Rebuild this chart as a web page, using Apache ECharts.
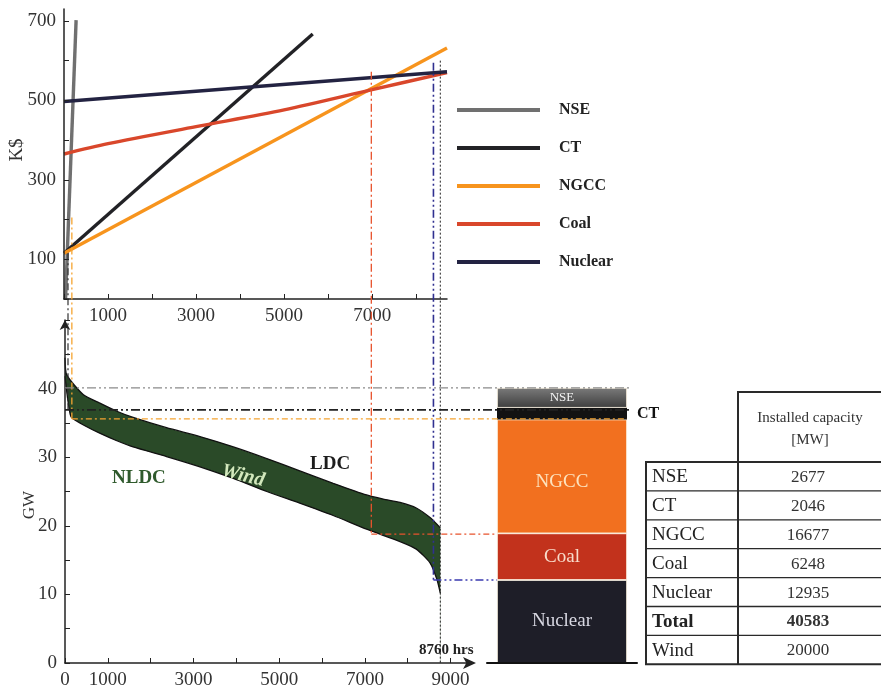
<!DOCTYPE html>
<html><head><meta charset="utf-8">
<script src="https://cdn.jsdelivr.net/npm/echarts@6/dist/echarts.min.js"></script>
<style>html,body{margin:0;padding:0;background:#fff}#c{width:881px;height:694px}</style>
</head><body><div id="c"></div>
<script>
const SERIF = '"Liberation Serif","DejaVu Serif",serif';

// ---- Top panel: screening curves (hours, K$) ----
const techNames = ['NSE', 'CT', 'NGCC', 'Coal', 'Nuclear'];
const nseCurve = [[35, 0], [275, 702]];
const ctCurve = [[0, 115], [5650, 667]];
const ngccCurve = [[0, 115], [8700, 632]];
const coalCurve = [[0, 365], [1000, 391], [3000, 434], [5000, 476], [7000, 527], [8700, 570]];
const nuclearCurve = [[0, 497], [8700, 572]];
const topXTickLabels = [1000, 3000, 5000, 7000];
const topYTickLabels = [100, 300, 500, 700];

// ---- Bottom panel: load duration curves (hours, GW) ----
const ldcPoints = [[0, 44.5], [40, 42.0], [430, 39.1], [810, 37.9], [1210, 36.7], [1590, 35.8], [2370, 34.3], [3150, 33.0], [3930, 31.5], [4710, 29.8], [5480, 28.0], [6260, 26.2], [7040, 24.5], [7430, 23.9], [7820, 23.4], [8200, 22.6], [8520, 21.2], [8760, 19.7]];
const nldcPoints = [[0, 41.8], [60, 38.6], [120, 36.3], [165, 35.7], [430, 34.7], [810, 33.5], [1210, 32.4], [1590, 31.5], [2370, 30.1], [3150, 28.6], [3930, 26.9], [4710, 25.0], [5480, 23.3], [6260, 21.5], [7040, 19.5], [7820, 17.7], [8200, 16.6], [8520, 14.6], [8680, 12.2], [8760, 10.2]];
const bottomXTickLabels = [0, 1000, 3000, 5000, 7000, 9000];
const bottomYTickLabels = [0, 10, 20, 30, 40];

// ---- Stacked capacity bar (GW, bottom to top) ----
const barTech = ['Nuclear', 'Coal', 'NGCC', 'CT', 'NSE'];
const barGW = [12.1, 6.8, 16.6, 1.7, 2.9];

// ---- Connector lines ----
const vConnHours = [70, 160, 7150, 8600, 8760];
const vConnTopK = [115, 205, 572, 595, 600];
const vConnBottomGW = [36.9, 35.6, 18.8, 12.1, 0];
const hGuideGW = [40.1, 36.9, 35.6, 18.8, 12.1];
const hGuideStartHr = [0, 0, 160, 7150, 8600];

// ---- Table ----
const tableRows = ['NSE', 'CT', 'NGCC', 'Coal', 'Nuclear', 'Total', 'Wind'];
const tableMW = [2677, 2046, 16677, 6248, 12935, 40583, 20000];

const techColors = { NSE: '#707070', CT: '#222226', NGCC: '#f7941d', Coal: '#d9472b', Nuclear: '#232342' };
const curves = { NSE: nseCurve, CT: ctCurve, NGCC: ngccCurve, Coal: coalCurve, Nuclear: nuclearCurve };

const chart = echarts.init(document.getElementById('c'), null, { renderer: 'canvas' });

const axisLabelStyle = { fontFamily: SERIF, fontSize: 19, color: '#333' };
const axisLineStyle = { lineStyle: { color: '#222', width: 1.5 } };

const topSeries = techNames.map(n => ({
  name: n, type: 'line', xAxisIndex: 0, yAxisIndex: 0,
  data: curves[n], showSymbol: false, symbol: 'none', smooth: n === 'Coal' ? 0.3 : false,
  lineStyle: { color: techColors[n], width: 3.4 }, itemStyle: { color: techColors[n] }, z: 3
}));

const barColors = {
  Nuclear: '#1e1e28', Coal: '#c2321c', NGCC: '#f2701f', CT: '#121212',
  NSE: new echarts.graphic.LinearGradient(0, 0, 0, 1, [{ offset: 0, color: '#7a7a7a' }, { offset: 1, color: '#3e3e3e' }])
};
const barLabelStyle = {
  Nuclear: { color: '#d8d8e2', fontSize: 19 },
  Coal: { color: '#f8dccb', fontSize: 19 },
  NGCC: { color: '#fde3bf', fontSize: 19, offset: [0, 6] },
  NSE: { color: '#f2f2f2', fontSize: 13 }
};
const barSeries = barTech.map((n, i) => ({
  name: 'bar-' + n, type: 'bar', xAxisIndex: 2, yAxisIndex: 2, stack: 'cap',
  barWidth: 130, data: [barGW[i]],
  itemStyle: { color: barColors[n], borderColor: '#fbf3df', borderWidth: n === 'CT' ? 0 : 0.8 },
  label: n === 'CT'
    ? { show: true, position: 'right', distance: 10, formatter: 'CT', fontFamily: SERIF, fontWeight: 'bold', fontSize: 16, color: '#111' }
    : { show: true, position: 'inside', formatter: n, fontFamily: SERIF, ...barLabelStyle[n] },
  z: 2
}));

const option = {
  animation: false,
  backgroundColor: '#fff',
  legend: {
    data: techNames, orient: 'vertical', left: 452, top: 95,
    icon: 'rect', itemWidth: 83, itemHeight: 4, itemGap: 18,
    textStyle: { fontFamily: SERIF, fontWeight: 'bold', fontSize: 16, color: '#222', lineHeight: 20, padding: [0, 0, 0, 14] },
    selectedMode: false
  },
  grid: [
    { left: 64, top: 9, width: 383, height: 290, outerBoundsMode: 'none' },
    { left: 65, top: 320, width: 407, height: 343, outerBoundsMode: 'none' },
    { left: 487, top: 320, width: 150, height: 343, outerBoundsMode: 'none' }
  ],
  xAxis: [
    { gridIndex: 0, type: 'value', min: 0, max: 8700, interval: 1000, z: 4,
      axisLine: axisLineStyle, axisTick: { show: true, inside: true, length: 5, lineStyle: { color: '#222' } },
      splitLine: { show: false },
      axisLabel: { ...axisLabelStyle, margin: 8, showMaxLabel: false, formatter: v => topXTickLabels.includes(v) ? String(v) : '' } },
    { gridIndex: 1, type: 'value', min: 0, max: 9500, interval: 1000, z: 4,
      axisLine: { ...axisLineStyle, symbol: ['none', 'arrow'], symbolSize: [9, 13], symbolOffset: [0, 4] },
      axisTick: { show: true, inside: true, length: 5, lineStyle: { color: '#222' } },
      splitLine: { show: false },
      axisLabel: { ...axisLabelStyle, margin: 8, showMaxLabel: false, formatter: v => bottomXTickLabels.includes(v) ? String(v) : '' } },
    { gridIndex: 2, type: 'category', data: ['cap'], show: true, z: 4,
      axisLine: { show: true, lineStyle: { color: '#111', width: 2 } }, axisTick: { show: false }, axisLabel: { show: false } }
  ],
  yAxis: [
    { gridIndex: 0, type: 'value', min: 0, max: 730, interval: 100, z: 4,
      axisLine: { show: true, ...axisLineStyle }, axisTick: { show: true, inside: true, length: 5, lineStyle: { color: '#222' } },
      splitLine: { show: false },
      axisLabel: { ...axisLabelStyle, margin: 8, showMaxLabel: false, formatter: v => topYTickLabels.includes(v) ? String(v) : '' } },
    { gridIndex: 1, type: 'value', min: 0, max: 50, interval: 5, z: 4,
      axisLine: { show: true, ...axisLineStyle, symbol: ['none', 'arrow'], symbolSize: [8, 10] },
      axisTick: { show: true, inside: true, length: 5, lineStyle: { color: '#222' } },
      splitLine: { show: false },
      axisLabel: { ...axisLabelStyle, margin: 8, formatter: v => bottomYTickLabels.includes(v) ? String(v) : '' } },
    { gridIndex: 2, type: 'value', min: 0, max: 50, show: false, splitLine: { show: false } }
  ],
  series: [
    ...topSeries,
    { name: 'LDC', type: 'line', xAxisIndex: 1, yAxisIndex: 1, data: ldcPoints, symbol: 'none', smooth: 0.2,
      lineStyle: { color: '#111', width: 1.3 }, areaStyle: { color: '#2a4a28', opacity: 1 }, z: 2 },
    { name: 'NLDC', type: 'line', xAxisIndex: 1, yAxisIndex: 1, data: nldcPoints, symbol: 'none', smooth: 0.2,
      lineStyle: { color: '#111', width: 1.3 }, areaStyle: { color: '#ffffff', opacity: 1 }, z: 2.1 },
    ...barSeries
  ]
};
chart.setOption(option);

// ---- overlays computed through the chart's own coordinate systems ----
const px = (g, x, y) => chart.convertToPixel({ gridIndex: g }, [x, y]);
const connStyles = [
  { stroke: '#333', lineWidth: 1.2, lineDash: [7, 3, 2, 3] },
  { stroke: '#f5a431', lineWidth: 1.3, lineDash: [7, 3, 2, 3] },
  { stroke: '#e8532d', lineWidth: 1.3, lineDash: [8, 3, 2, 3] },
  { stroke: '#303090', lineWidth: 1.6, lineDash: [8, 3, 2, 3, 2, 3] },
  { stroke: '#222', lineWidth: 1, lineDash: [2, 2] }
];
const guideStyles = [
  { stroke: '#8a8a8a', lineWidth: 1.4, lineDash: [9, 3, 2, 3, 2, 3] },
  { stroke: '#222', lineWidth: 1.8, lineDash: [9, 3, 2, 3, 2, 3] },
  { stroke: '#f5a431', lineWidth: 1.3, lineDash: [6, 3, 2, 3] },
  { stroke: '#e8532d', lineWidth: 1.3, lineDash: [6, 3, 2, 3] },
  { stroke: '#3a3ab0', lineWidth: 1.5, lineDash: [8, 3, 2, 3, 2, 3] }
];
const graphics = [];
vConnHours.forEach((h, i) => {
  const xb = px(1, h, vConnBottomGW[i]);
  const yt = px(0, 0, vConnTopK[i])[1];
  graphics.push({ type: 'line', z: 50, shape: { x1: xb[0], y1: yt, x2: xb[0], y2: xb[1] }, style: connStyles[i], silent: true });
});
const barCenter = px(2, 'cap', 0)[0];
const barLeft = barCenter - 65, barRight = barCenter + 65;
hGuideGW.forEach((g, i) => {
  const p = px(1, hGuideStartHr[i], g);
  const xEnd = i < 2 ? barRight + 5 : (i === 2 ? barRight : barLeft);
  graphics.push({ type: 'line', z: 50, shape: { x1: p[0], y1: p[1], x2: xEnd, y2: p[1] }, style: guideStyles[i], silent: true });
});
// axis titles
graphics.push({ type: 'text', z: 60, x: 17, y: 150, rotation: Math.PI / 2, style: { text: 'K$', font: '19px ' + SERIF, fill: '#333', align: 'center', verticalAlign: 'middle' } });
graphics.push({ type: 'text', z: 60, x: 30, y: 505, rotation: Math.PI / 2, style: { text: 'GW', font: '17px ' + SERIF, fill: '#333', align: 'center', verticalAlign: 'middle' } });
// annotations
graphics.push({ type: 'text', z: 60, x: 112, y: 469, style: { text: 'NLDC', font: 'bold 19px ' + SERIF, fill: '#2f5a2c' } });
graphics.push({ type: 'text', z: 60, x: 224, y: 461, rotation: -0.24, style: { text: 'Wind', font: 'italic bold 20px ' + SERIF, fill: '#d3e8bd' } });
graphics.push({ type: 'text', z: 60, x: 310, y: 455, style: { text: 'LDC', font: 'bold 19px ' + SERIF, fill: '#1d1d1d' } });
const p8760 = px(1, 8760, 0);
graphics.push({ type: 'text', z: 60, x: p8760[0] + 6, y: 643, style: { text: '8760 hrs', font: 'bold 15px ' + SERIF, fill: '#222', align: 'center' } });

// table
const tL = 646, tM = 738, tR = 882, tHeadTop = 392, tHeadBot = 462, rowH = 28.9;
const lineCol = '#2a2a2a';
const tbl = [];
tbl.push({ type: 'rect', shape: { x: tM, y: tHeadTop, width: tR - tM, height: tHeadBot - tHeadTop }, style: { fill: 'none', stroke: lineCol, lineWidth: 2 } });
tbl.push({ type: 'text', x: (tM + tR) / 2, y: 418, style: { text: 'Installed capacity', font: '15px ' + SERIF, fill: '#333', align: 'center', verticalAlign: 'middle' } });
tbl.push({ type: 'text', x: (tM + tR) / 2, y: 440, style: { text: '[MW]', font: '15px ' + SERIF, fill: '#333', align: 'center', verticalAlign: 'middle' } });
const tBot = tHeadBot + rowH * tableRows.length;
tbl.push({ type: 'rect', shape: { x: tL, y: tHeadBot, width: tR - tL, height: tBot - tHeadBot }, style: { fill: 'none', stroke: lineCol, lineWidth: 2 } });
tbl.push({ type: 'line', shape: { x1: tM, y1: tHeadBot, x2: tM, y2: tBot }, style: { stroke: lineCol, lineWidth: 2 } });
tableRows.forEach((r, i) => {
  const y0 = tHeadBot + rowH * i;
  if (i > 0) tbl.push({ type: 'line', shape: { x1: tL, y1: y0, x2: tR, y2: y0 }, style: { stroke: lineCol, lineWidth: 1.3 } });
  const bold = r === 'Total' ? 'bold ' : '';
  tbl.push({ type: 'text', x: tL + 6, y: y0 + rowH / 2 + 1, style: { text: r, font: bold + '19px ' + SERIF, fill: '#222', verticalAlign: 'middle' } });
  tbl.push({ type: 'text', x: (tM + tR) / 2 - 2, y: y0 + rowH / 2 + 1, style: { text: String(tableMW[i]), font: bold + '17px ' + SERIF, fill: '#333', align: 'center', verticalAlign: 'middle' } });
});
graphics.push({ type: 'group', z: 60, children: tbl });

chart.setOption({ graphic: graphics });
</script>
</body></html>
